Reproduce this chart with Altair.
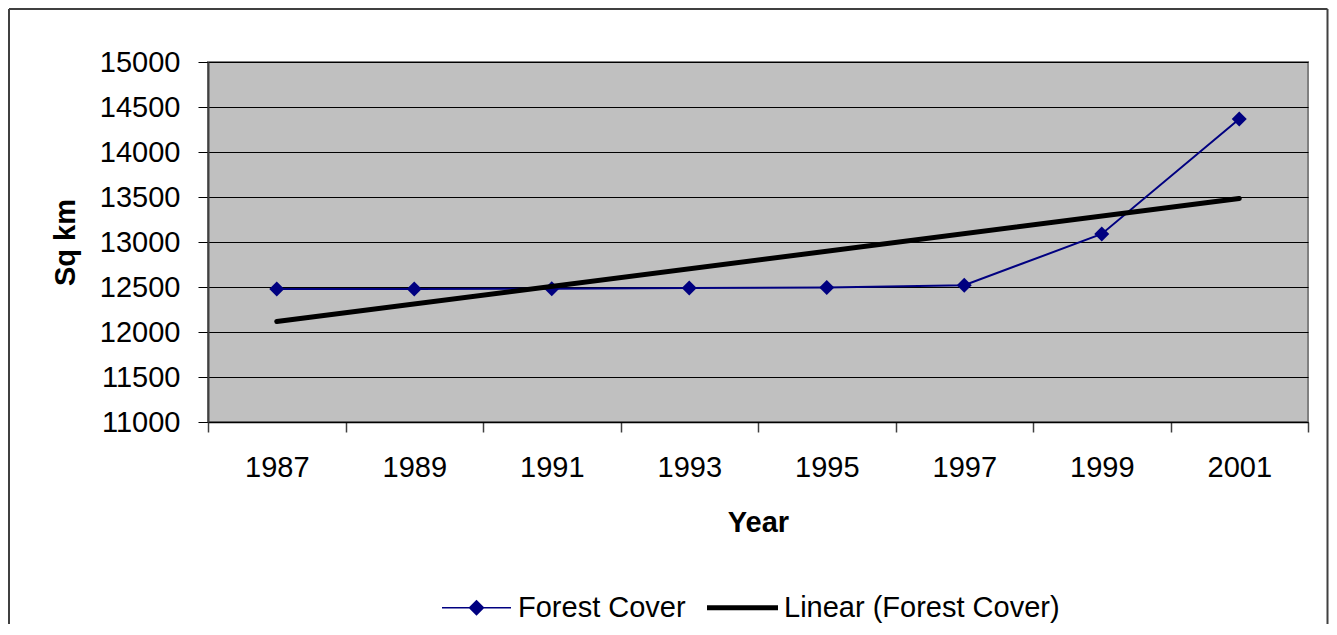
import json
import altair as alt
import pandas as pd

# ---- data ----
years = ["1987", "1989", "1991", "1993", "1995", "1997", "1999", "2001"]
forest_cover = [12478, 12478, 12480, 12490, 12495, 12520, 13089, 14367]
y_ticks = [11000, 11500, 12000, 12500, 13000, 13500, 14000, 14500, 15000]
series_names = ["Forest Cover", "Linear (Forest Cover)"]
series_colors = ["#000080", "#000000"]

FONT = "Liberation Sans"
FS = 29

df = pd.DataFrame({"year": years, "idx": list(range(len(years))), "value": forest_cover})
legend_df = pd.DataFrame({"series": series_names})
frame_df = pd.DataFrame({"frame": [0]})

x_scale = alt.Scale(type="band", domain=years, paddingInner=0, paddingOuter=0)
y_scale = alt.Scale(domain=[11000, 15000], nice=False, zero=False)

x_axis = alt.Axis(
    title="Year", tickBand="extent", tickSize=10, labelPadding=21, labelAngle=0,
    labelFontSize=FS, titleFontSize=FS, titleFontWeight="bold",
    titleY=109, titleBaseline="alphabetic", grid=False,
    domainColor="#000000", domainWidth=1.5, tickColor="#404040", tickWidth=1.5,
    labelColor="black", titleColor="black", labelFont=FONT, titleFont=FONT,
)
y_axis = alt.Axis(
    title="Sq km", values=y_ticks, format="d", grid=True, gridColor="black", gridWidth=1,
    tickSize=10, tickColor="black", tickWidth=1, labelPadding=18,
    labelFontSize=FS, titleFontSize=FS, titleFontWeight="bold",
    titleX=-128, titleY=180, domainColor="#404040", domainWidth=2,
    labelColor="black", titleColor="black", labelFont=FONT, titleFont=FONT,
)

line = alt.Chart(df).mark_line(color="#000080", strokeWidth=2).encode(
    x=alt.X("year:O", scale=x_scale, axis=x_axis),
    y=alt.Y("value:Q", scale=y_scale, axis=y_axis),
)
points = alt.Chart(df).mark_point(
    shape="diamond", filled=True, size=225, color="#000080", opacity=1
).encode(x=alt.X("year:O"), y=alt.Y("value:Q"))

trend = (
    alt.Chart(df)
    .transform_regression("idx", "value", method="linear")
    .transform_calculate(year=f"{json.dumps(years)}[datum.idx]")
    .mark_line(color="black", strokeWidth=5, strokeCap="round")
    .encode(x=alt.X("year:O"), y=alt.Y("value:Q"))
)

path_fc = "M-3.45,-0.08H3.45V0.08H-3.45Z M0,-0.8L0.8,0L0,0.8L-0.8,0Z"
path_lin = "M-3.55,-0.25H3.55V0.25H-3.55Z"

legend_def = alt.Legend(
    title=None, orient="none", legendX=229, legendY=531, direction="horizontal",
    symbolSize=400, symbolOffset=25, symbolStrokeWidth=0, labelOffset=27,
    columnPadding=17, labelFontSize=FS, labelFont=FONT, labelColor="black",
    labelLimit=600, padding=0,
)
legend_layer = (
    alt.Chart(legend_df)
    .transform_filter("false")
    .mark_point(filled=True, opacity=1, strokeWidth=0)
    .encode(
        x=alt.X("series:N", scale=x_scale),
        shape=alt.Shape("series:N", scale=alt.Scale(domain=series_names, range=[path_fc, path_lin]), legend=legend_def),
        color=alt.Color("series:N", scale=alt.Scale(domain=series_names, range=series_colors), legend=legend_def),
    )
)

frame_color = "#404040"
frame_left = alt.Chart(frame_df).mark_rule(color=frame_color, strokeWidth=2).encode(
    x=alt.value(-199), y=alt.value(-53), y2=alt.value(570)
)
frame_right = alt.Chart(frame_df).mark_rule(color=frame_color, strokeWidth=2).encode(
    x=alt.value(1119.5), y=alt.value(-53), y2=alt.value(570)
)
frame_top = alt.Chart(frame_df).mark_rule(color=frame_color, strokeWidth=2).encode(
    x=alt.value(-199), x2=alt.value(1119.5), y=alt.value(-53)
)

chart = (
    alt.layer(frame_left, frame_right, frame_top, line, points, trend, legend_layer)
    .properties(
        width=1100, height=360, background="white",
        padding={"left": 200, "top": 54, "right": 21, "bottom": 202},
        autosize=alt.AutoSizeParams(type="none"),
    )
    .configure_view(fill="#C0C0C0", stroke="#808080", strokeWidth=2)
)

chart.save("out.html", embed_options={"renderer": "svg", "actions": False})
